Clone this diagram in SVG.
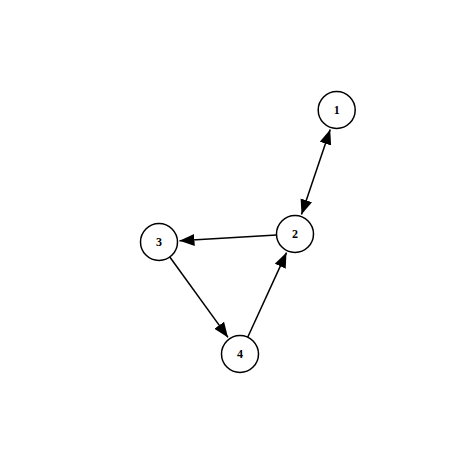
<svg xmlns="http://www.w3.org/2000/svg" width="460" height="460" viewBox="0 0 460 460">
<defs>
<marker id="ah" markerUnits="userSpaceOnUse" markerWidth="16" markerHeight="13" refX="15" refY="6" orient="auto-start-reverse" viewBox="0 0 16 13">
<path d="M0,0 L15,6 L0,12 z" fill="#000"/>
</marker>
<style>
.node circle{fill:#fff;stroke:#000;stroke-width:1.5}
.node text{font-family:"Liberation Serif",serif;font-weight:bold;font-size:12px;text-anchor:middle;dominant-baseline:central;fill:#000}
.edge{stroke:#000;stroke-width:1.5;fill:none}
</style>
</defs>
<rect width="460" height="460" fill="#fff"/>
<g id="connectors">
<line class="edge" x1="330.2" y1="129.4" x2="301.5" y2="214.6" marker-start="url(#ah)" marker-end="url(#ah)"/>
<line class="edge" x1="276.5" y1="235.1" x2="179.5" y2="240.8" marker-end="url(#ah)"/>
<line class="edge" x1="169.8" y1="257.0" x2="228.0" y2="337.4" marker-end="url(#ah)"/>
<line class="edge" x1="247.7" y1="337.2" x2="286.5" y2="252.6" marker-end="url(#ah)"/>
</g>
<g id="node1" class="node"><circle cx="336.7" cy="110" r="18.5"/><text x="336.7" y="110">1</text></g>
<g id="node2" class="node"><circle cx="295" cy="234" r="18.5"/><text x="295" y="234">2</text></g>
<g id="node3" class="node"><circle cx="159" cy="242" r="18.5"/><text x="159" y="242">3</text></g>
<g id="node4" class="node"><circle cx="240" cy="354" r="18.5"/><text x="240" y="354">4</text></g>
</svg>
